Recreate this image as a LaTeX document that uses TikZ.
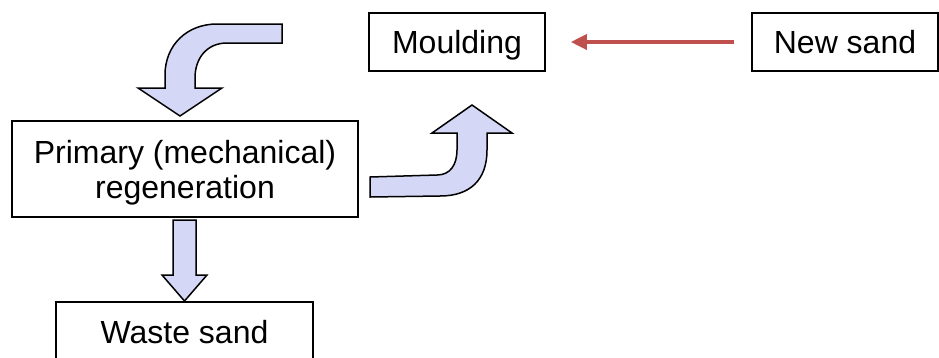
\documentclass[tikz,border=0pt]{standalone}
\usepackage{fontspec}
\setmainfont{Liberation Sans}
\usetikzlibrary{arrows.meta}
\definecolor{Ink}{HTML}{000000}
\definecolor{Lilac}{HTML}{D5D7F6}
\definecolor{Brick}{HTML}{C0504D}
\tikzset{
  stage/.style={
    draw=Ink, line width=1.6pt, fill=white, align=center, text depth=0pt,
    inner sep=0pt, font=\fontsize{32}{35}\selectfont
  },
  blockarrow/.style={draw=Ink, line width=1.5pt, fill=Lilac, line join=miter},
  feed/.style={-{Triangle[length=16pt,width=15pt]}, line width=3.5pt, draw=Brick}
}

\begin{document}
\begin{tikzpicture}[x=1pt,y=-1pt]
    \useasboundingbox (0,0) rectangle (939,357);
    \node[stage,minimum width=176pt,minimum height=58pt] (moulding) at (457,42) {Moulding};
    \node[stage,minimum width=186pt,minimum height=58pt] (newsand) at (845,42) {New sand};
    \node[stage,minimum width=346pt,minimum height=96pt] (primary) at (185,169) {Primary (mechanical)\\regeneration};
    \node[stage,minimum width=257pt,minimum height=60pt] (waste) at (184.5,332) {Waste sand};
    \draw[feed,shorten <=17pt,shorten >=25pt] (newsand) -- (moulding);
    % returned sand into primary
    \draw[blockarrow] (282,24) -- (217,24) .. controls (187,24) and (165,45) .. (165,75)
      -- (165,88) -- (138,88) -- (180,116) -- (222,88) -- (195,88) -- (195,78)
      .. controls (195,58) and (207,43) .. (227,43) -- (282,43) -- cycle;
    % back to moulding
    \draw[blockarrow] (370,177) -- (437,175) .. controls (450,175) and (457,165) .. (457,150)
      -- (457,133) -- (432,133) -- (472,105) -- (512,133) -- (487,133) -- (487,150)
      .. controls (487,180) and (470,196) .. (440,196) -- (370,197) -- cycle;
    % to waste
    \draw[blockarrow] (173,220) -- (173,275) -- (162,275) -- (184.5,301) -- (207,275)
      -- (196,275) -- (196,220) -- cycle;
\end{tikzpicture}
\end{document}
